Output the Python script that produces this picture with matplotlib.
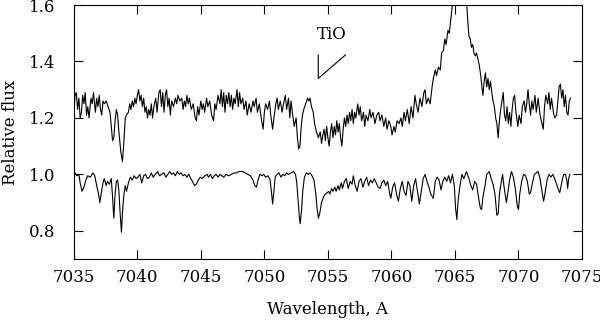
import matplotlib
matplotlib.use('Agg')
import matplotlib.pyplot as plt

# upper spectrum (wavelength, relative flux)
wave_top = [7035.0, 7035.1, 7035.2, 7035.3, 7035.4, 7035.5, 7035.6, 7035.7, 7035.8, 7035.9,
            7036.0, 7036.1, 7036.2, 7036.35, 7036.45, 7036.55, 7036.7, 7036.8, 7036.9, 7037.0,
            7037.1, 7037.2, 7037.3, 7037.4, 7037.55, 7037.7, 7037.85, 7037.95, 7038.05, 7038.15,
            7038.25, 7038.35, 7038.45, 7038.55, 7038.7, 7038.83, 7038.95, 7039.05, 7039.15, 7039.3,
            7039.4, 7039.5, 7039.6, 7039.7, 7039.8, 7039.9, 7040.0, 7040.1, 7040.2, 7040.3,
            7040.4, 7040.5, 7040.6, 7040.7, 7040.8, 7040.9, 7041.0, 7041.1, 7041.2, 7041.3,
            7041.45, 7041.55, 7041.7, 7041.8, 7041.9, 7042.0, 7042.1, 7042.2, 7042.3, 7042.4,
            7042.5, 7042.6, 7042.7, 7042.85, 7043.0, 7043.1, 7043.2, 7043.35, 7043.5, 7043.6,
            7043.7, 7043.8, 7043.9, 7044.0, 7044.1, 7044.25, 7044.4, 7044.55, 7044.65, 7044.75,
            7044.85, 7045.0, 7045.1, 7045.2, 7045.3, 7045.45, 7045.55, 7045.7, 7045.85, 7046.0,
            7046.1, 7046.2, 7046.35, 7046.5, 7046.6, 7046.7, 7046.8, 7046.9, 7047.0, 7047.1,
            7047.2, 7047.3, 7047.4, 7047.5, 7047.6, 7047.7, 7047.85, 7047.95, 7048.05, 7048.15,
            7048.3, 7048.4, 7048.55, 7048.65, 7048.8, 7048.95, 7049.1, 7049.2, 7049.35, 7049.45,
            7049.6, 7049.75, 7049.9, 7050.0, 7050.1, 7050.25, 7050.4, 7050.5, 7050.65, 7050.75,
            7050.9, 7051.0, 7051.1, 7051.25, 7051.4, 7051.5, 7051.65, 7051.75, 7051.9, 7052.0,
            7052.1, 7052.2, 7052.35, 7052.5, 7052.6, 7052.7, 7052.8, 7052.9, 7053.0, 7053.1,
            7053.25, 7053.4, 7053.5, 7053.6, 7053.7, 7053.85, 7053.95, 7054.1, 7054.25, 7054.4,
            7054.5, 7054.6, 7054.7, 7054.8, 7054.9, 7055.0, 7055.1, 7055.2, 7055.3, 7055.4,
            7055.5, 7055.6, 7055.7, 7055.8, 7055.9, 7056.0, 7056.1, 7056.2, 7056.3, 7056.4,
            7056.5, 7056.6, 7056.7, 7056.8, 7056.9, 7057.0, 7057.1, 7057.2, 7057.35, 7057.45,
            7057.55, 7057.65, 7057.8, 7057.9, 7058.0, 7058.15, 7058.3, 7058.4, 7058.55, 7058.7,
            7058.85, 7059.0, 7059.1, 7059.25, 7059.4, 7059.55, 7059.65, 7059.8, 7059.95, 7060.05,
            7060.2, 7060.3, 7060.45, 7060.6, 7060.75, 7060.85, 7061.0, 7061.1, 7061.25, 7061.4,
            7061.55, 7061.7, 7061.85, 7061.95, 7062.1, 7062.25, 7062.4, 7062.55, 7062.65, 7062.75,
            7062.9, 7063.05, 7063.2, 7063.3, 7063.45, 7063.55, 7063.7, 7063.85, 7063.95, 7064.1,
            7064.2, 7064.3, 7064.45, 7064.55, 7064.7, 7064.8, 7064.9, 7065.1, 7065.4, 7065.7,
            7065.9, 7066.0, 7066.1, 7066.2, 7066.3, 7066.4, 7066.5, 7066.6, 7066.7, 7066.8,
            7066.9, 7067.0, 7067.1, 7067.2, 7067.3, 7067.4, 7067.5, 7067.6, 7067.7, 7067.8,
            7067.9, 7068.0, 7068.1, 7068.2, 7068.3, 7068.4, 7068.5, 7068.6, 7068.7, 7068.8,
            7068.9, 7069.0, 7069.1, 7069.2, 7069.3, 7069.4, 7069.5, 7069.6, 7069.7, 7069.8,
            7069.95, 7070.05, 7070.2, 7070.3, 7070.45, 7070.55, 7070.65, 7070.75, 7070.85, 7070.95,
            7071.05, 7071.15, 7071.3, 7071.4, 7071.55, 7071.7, 7071.8, 7071.95, 7072.05, 7072.15,
            7072.3, 7072.4, 7072.5, 7072.6, 7072.75, 7072.85, 7073.0, 7073.1, 7073.2, 7073.3,
            7073.4, 7073.5, 7073.6, 7073.7, 7073.8, 7073.9, 7074.0, 7074.1]
flux_top = [1.21, 1.28, 1.29, 1.23, 1.27, 1.20, 1.22, 1.28, 1.25, 1.29,
            1.21, 1.24, 1.20, 1.27, 1.25, 1.29, 1.22, 1.27, 1.24, 1.28,
            1.23, 1.21, 1.26, 1.25, 1.26, 1.24, 1.22, 1.17, 1.12, 1.13,
            1.19, 1.23, 1.21, 1.15, 1.08, 1.045, 1.12, 1.20, 1.21, 1.22,
            1.25, 1.23, 1.26, 1.24, 1.27, 1.25, 1.28, 1.30, 1.26, 1.28,
            1.24, 1.27, 1.22, 1.24, 1.20, 1.23, 1.21, 1.25, 1.20, 1.24,
            1.27, 1.22, 1.29, 1.30, 1.24, 1.29, 1.22, 1.28, 1.30, 1.24,
            1.27, 1.21, 1.26, 1.24, 1.27, 1.25, 1.28, 1.26, 1.27, 1.23,
            1.26, 1.24, 1.28, 1.25, 1.27, 1.23, 1.25, 1.20, 1.19, 1.24,
            1.21, 1.26, 1.23, 1.25, 1.22, 1.27, 1.24, 1.26, 1.21, 1.19,
            1.25, 1.23, 1.28, 1.25, 1.30, 1.24, 1.29, 1.22, 1.28, 1.25,
            1.29, 1.24, 1.28, 1.23, 1.27, 1.25, 1.30, 1.24, 1.29, 1.25,
            1.27, 1.23, 1.26, 1.21, 1.25, 1.22, 1.26, 1.24, 1.27, 1.22,
            1.25, 1.20, 1.16, 1.22, 1.25, 1.23, 1.26, 1.21, 1.16, 1.20,
            1.25, 1.27, 1.23, 1.26, 1.22, 1.25, 1.28, 1.23, 1.27, 1.20,
            1.26, 1.22, 1.17, 1.20, 1.13, 1.09, 1.10, 1.17, 1.21, 1.23,
            1.25, 1.27, 1.26, 1.27, 1.24, 1.22, 1.18, 1.15, 1.13, 1.15,
            1.11, 1.14, 1.16, 1.12, 1.17, 1.13, 1.10, 1.15, 1.18, 1.13,
            1.17, 1.14, 1.19, 1.15, 1.18, 1.13, 1.10, 1.16, 1.20, 1.17,
            1.21, 1.18, 1.22, 1.19, 1.23, 1.18, 1.22, 1.20, 1.25, 1.21,
            1.24, 1.19, 1.22, 1.17, 1.21, 1.19, 1.23, 1.20, 1.22, 1.18,
            1.21, 1.22, 1.19, 1.21, 1.17, 1.20, 1.16, 1.19, 1.17, 1.14,
            1.17, 1.15, 1.19, 1.18, 1.20, 1.17, 1.22, 1.19, 1.23, 1.18,
            1.24, 1.20, 1.28, 1.25, 1.22, 1.27, 1.24, 1.29, 1.30, 1.25,
            1.27, 1.25, 1.31, 1.34, 1.37, 1.35, 1.38, 1.37, 1.43, 1.44,
            1.48, 1.46, 1.51, 1.50, 1.56, 1.60, 1.65, 1.70, 1.72, 1.68,
            1.62, 1.55, 1.49, 1.48, 1.45, 1.46, 1.43, 1.42, 1.43, 1.41,
            1.39, 1.36, 1.32, 1.28, 1.33, 1.36, 1.31, 1.34, 1.30, 1.33,
            1.29, 1.26, 1.24, 1.20, 1.18, 1.13, 1.19, 1.23, 1.26, 1.29,
            1.21, 1.19, 1.24, 1.18, 1.22, 1.17, 1.23, 1.27, 1.28, 1.22,
            1.17, 1.21, 1.18, 1.24, 1.26, 1.22, 1.25, 1.30, 1.25, 1.21,
            1.26, 1.23, 1.28, 1.22, 1.27, 1.21, 1.19, 1.16, 1.24, 1.28,
            1.25, 1.29, 1.23, 1.27, 1.22, 1.20, 1.21, 1.26, 1.31, 1.32,
            1.27, 1.30, 1.24, 1.28, 1.22, 1.21, 1.26, 1.27]

# lower spectrum
wave_bot = [7035.0, 7035.1, 7035.25, 7035.4, 7035.5, 7035.65, 7035.8, 7035.95, 7036.1, 7036.3,
            7036.5, 7036.65, 7036.8, 7036.95, 7037.05, 7037.15, 7037.3, 7037.4, 7037.55, 7037.65,
            7037.8, 7037.95, 7038.05, 7038.15, 7038.25, 7038.35, 7038.45, 7038.55, 7038.65, 7038.75,
            7038.85, 7038.95, 7039.05, 7039.15, 7039.3, 7039.45, 7039.6, 7039.75, 7039.9, 7040.05,
            7040.2, 7040.35, 7040.5, 7040.65, 7040.8, 7040.95, 7041.1, 7041.25, 7041.4, 7041.6,
            7041.75, 7041.9, 7042.1, 7042.25, 7042.4, 7042.55, 7042.7, 7042.85, 7043.0, 7043.15,
            7043.3, 7043.45, 7043.6, 7043.75, 7043.9, 7044.05, 7044.2, 7044.35, 7044.5, 7044.65,
            7044.8, 7044.95, 7045.1, 7045.3, 7045.5, 7045.6, 7045.75, 7045.9, 7046.05, 7046.2,
            7046.35, 7046.5, 7046.65, 7046.8, 7047.0, 7047.2, 7047.4, 7047.6, 7047.8, 7048.0,
            7048.3, 7048.5, 7048.7, 7048.9, 7049.1, 7049.25, 7049.38, 7049.5, 7049.65, 7049.8,
            7049.95, 7050.1, 7050.3, 7050.45, 7050.55, 7050.65, 7050.75, 7050.85, 7051.0, 7051.15,
            7051.3, 7051.45, 7051.6, 7051.75, 7051.9, 7052.1, 7052.3, 7052.45, 7052.55, 7052.65,
            7052.75, 7052.82, 7052.92, 7053.02, 7053.15, 7053.3, 7053.45, 7053.6, 7053.75, 7053.9,
            7054.05, 7054.15, 7054.25, 7054.35, 7054.5, 7054.65, 7054.8, 7054.95, 7055.05, 7055.15,
            7055.3, 7055.4, 7055.55, 7055.65, 7055.8, 7055.9, 7056.05, 7056.15, 7056.3, 7056.45,
            7056.6, 7056.75, 7056.9, 7057.0, 7057.15, 7057.3, 7057.45, 7057.6, 7057.75, 7057.9,
            7058.05, 7058.2, 7058.35, 7058.5, 7058.65, 7058.8, 7058.95, 7059.1, 7059.25, 7059.4,
            7059.55, 7059.7, 7059.85, 7059.95, 7060.1, 7060.25, 7060.4, 7060.55, 7060.7, 7060.85,
            7061.0, 7061.15, 7061.3, 7061.45, 7061.6, 7061.75, 7061.9, 7062.05, 7062.2, 7062.35,
            7062.5, 7062.65, 7062.8, 7062.95, 7063.1, 7063.3, 7063.45, 7063.6, 7063.75, 7063.9,
            7064.05, 7064.2, 7064.35, 7064.5, 7064.65, 7064.8, 7064.95, 7065.05, 7065.15, 7065.25,
            7065.4, 7065.55, 7065.7, 7065.9, 7066.1, 7066.25, 7066.4, 7066.55, 7066.7, 7066.85,
            7067.0, 7067.1, 7067.2, 7067.35, 7067.5, 7067.7, 7067.85, 7068.0, 7068.15, 7068.3,
            7068.4, 7068.5, 7068.65, 7068.75, 7068.85, 7068.95, 7069.05, 7069.15, 7069.3, 7069.45,
            7069.6, 7069.75, 7069.9, 7070.0, 7070.1, 7070.25, 7070.4, 7070.55, 7070.7, 7070.85,
            7070.95, 7071.1, 7071.25, 7071.4, 7071.55, 7071.7, 7071.85, 7071.98, 7072.1, 7072.25,
            7072.4, 7072.55, 7072.7, 7072.85, 7073.0, 7073.15, 7073.25, 7073.4, 7073.55, 7073.7,
            7073.8, 7073.87, 7073.95, 7074.05]
flux_bot = [0.99, 1.005, 0.995, 1.00, 0.97, 0.94, 0.955, 0.98, 0.995, 0.99,
            1.005, 0.995, 0.96, 0.93, 0.90, 0.93, 0.97, 0.985, 0.96, 0.975,
            0.965, 0.985, 0.92, 0.845, 0.93, 0.975, 0.98, 0.94, 0.86, 0.795,
            0.88, 0.93, 0.96, 0.94, 0.97, 0.99, 0.98, 0.995, 0.985, 0.99,
            1.00, 0.97, 0.995, 1.00, 0.985, 0.99, 1.005, 0.99, 1.00, 1.01,
            0.995, 1.00, 1.005, 0.99, 1.00, 1.01, 1.00, 1.005, 0.995, 1.01,
            1.00, 1.005, 0.995, 1.00, 0.99, 1.00, 0.985, 0.975, 0.96, 0.965,
            0.98, 0.99, 0.985, 0.995, 1.00, 0.99, 1.00, 0.985, 0.995, 1.00,
            0.99, 1.00, 0.995, 0.99, 1.00, 0.995, 1.00, 1.005, 1.005, 1.01,
            1.01, 1.005, 1.00, 0.995, 0.98, 0.96, 0.955, 0.98, 1.00, 0.995,
            1.00, 0.99, 0.995, 0.98, 0.94, 0.895, 0.94, 0.99, 1.00, 1.005,
            0.99, 1.00, 0.995, 1.005, 1.00, 1.005, 1.01, 1.00, 0.97, 0.91,
            0.85, 0.825, 0.87, 0.94, 0.99, 1.005, 1.00, 1.005, 0.995, 0.98,
            0.93, 0.88, 0.845, 0.86, 0.90, 0.92, 0.93, 0.935, 0.94, 0.93,
            0.95, 0.94, 0.955, 0.94, 0.96, 0.945, 0.97, 0.95, 0.975, 0.985,
            0.95, 0.975, 0.965, 0.995, 0.96, 0.94, 0.975, 0.985, 0.955, 0.975,
            0.99, 0.96, 0.98, 0.97, 0.985, 0.97, 0.955, 0.95, 0.97, 0.98,
            0.96, 0.975, 0.935, 0.915, 0.955, 0.97, 0.93, 0.905, 0.95, 0.975,
            0.94, 0.925, 0.975, 0.96, 0.905, 0.96, 0.985, 0.94, 0.895, 0.94,
            0.985, 1.00, 0.975, 0.955, 0.93, 0.915, 0.975, 0.99, 0.98, 0.945,
            0.975, 0.99, 0.975, 0.995, 0.97, 1.00, 0.96, 0.88, 0.84, 0.91,
            0.96, 1.00, 0.985, 1.01, 0.985, 0.96, 0.945, 0.975, 0.965, 0.92,
            0.88, 0.875, 0.92, 0.955, 1.00, 1.01, 0.985, 0.965, 0.93, 0.855,
            0.86, 0.93, 0.975, 1.00, 0.96, 0.93, 0.90, 0.93, 0.98, 1.01,
            0.99, 0.95, 0.89, 0.875, 0.93, 0.975, 1.00, 0.995, 0.975, 0.93,
            0.935, 0.97, 1.00, 1.005, 1.01, 0.985, 0.94, 0.905, 0.935, 0.98,
            1.00, 0.99, 1.00, 0.985, 0.965, 0.945, 0.935, 0.97, 1.00, 1.00,
            0.98, 0.95, 0.985, 1.00]

x_ticks = [7035, 7040, 7045, 7050, 7055, 7060, 7065, 7070, 7075]
y_ticks = [0.8, 1.0, 1.2, 1.4, 1.6]

# TiO marker: vertical stroke, then a slanted stroke
tio_x = [7054.24, 7054.24, 7056.38]
tio_y = [1.423, 1.340, 1.423]

plt.rcParams['font.family'] = 'DejaVu Serif'

fig = plt.figure(figsize=(6.0, 3.26), dpi=100)
ax = fig.add_axes([0.123, 0.2055, 0.847, 0.779])

ax.plot(wave_top, flux_top, color='black', lw=0.8)
ax.plot(wave_bot, flux_bot, color='black', lw=0.8)
ax.plot(tio_x, tio_y, color='black', lw=0.8)
ax.text(7054.15, 1.494, 'TiO', fontsize=12, va='center', ha='left')

ax.set_xlim(7035, 7075)
ax.set_ylim(0.7, 1.6)
ax.set_xticks(x_ticks)
ax.set_yticks(y_ticks)
ax.set_yticklabels(['%.1f' % v for v in y_ticks])
ax.tick_params(direction='in', top=True, right=True, length=6.5, width=0.8,
               labelsize=12)
ax.tick_params(axis='x', pad=7)
ax.tick_params(axis='y', pad=13)
for s in ax.spines.values():
    s.set_linewidth(0.8)

ax.set_xlabel('Wavelength, A', fontsize=12)
ax.set_ylabel('Relative flux', fontsize=12)
ax.xaxis.set_label_coords(0.5, -0.165)
ax.yaxis.set_label_coords(-0.108, 0.5)

fig.savefig('out.png', dpi=100)
